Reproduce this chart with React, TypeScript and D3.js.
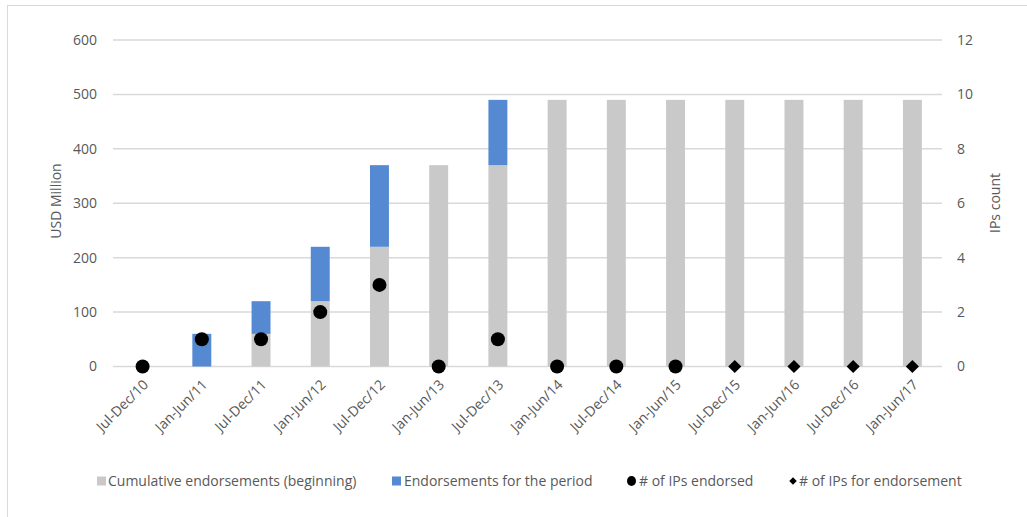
import React from 'react';
import * as d3 from 'd3';

const categories = [
  'Jul-Dec/10', 'Jan-Jun/11', 'Jul-Dec/11', 'Jan-Jun/12', 'Jul-Dec/12', 'Jan-Jun/13', 'Jul-Dec/13',
  'Jan-Jun/14', 'Jul-Dec/14', 'Jan-Jun/15', 'Jul-Dec/15', 'Jan-Jun/16', 'Jul-Dec/16', 'Jan-Jun/17',
];
const cumulative = [0, 0, 60, 120, 220, 370, 370, 490, 490, 490, 490, 490, 490, 490];
const period = [0, 60, 60, 100, 150, 0, 120, 0, 0, 0, 0, 0, 0, 0];
const ipsEndorsed: (number | null)[] = [0, 1, 1, 2, 3, 0, 1, 0, 0, 0, null, null, null, null];
const ipsForEndorsement: (number | null)[] = [null, null, null, null, null, null, null, null, null, null, 0, 0, 0, 0];
const usdTicks = [0, 100, 200, 300, 400, 500, 600];
const countTicks = [0, 2, 4, 6, 8, 10, 12];

const legendItems = [
  { label: 'Cumulative endorsements (beginning)', kind: 'gray' },
  { label: 'Endorsements for the period', kind: 'blue' },
  { label: '# of IPs endorsed', kind: 'circle' },
  { label: '# of IPs for endorsement', kind: 'diamond' },
];

const W = 1027;
const H = 517;
const FONT = '"Open Sans", sans-serif';
const TEXT = '#595959';
const GRAY = '#c9c9c9';
const BLUE = '#5589d2';
const GRID = '#d9d9d9';

export default function App() {
  const x = d3.scaleBand<string>().domain(categories).range([113, 942]).paddingInner(0.68).paddingOuter(0.34);
  const y = d3.scaleLinear().domain([0, 600]).range([366.5, 40]);
  const y2 = d3.scaleLinear().domain([0, 12]).range([366.5, 40]);
  const bw = x.bandwidth();
  const cx = (c: string) => (x(c) ?? 0) + bw / 2;

  // marker left edges and text starts
  const legendMarkX = [97, 392, 627, 789];
  const legendTextX = [108, 404, 639, 799];

  return (
    <svg width={W} height={H} style={{ position: 'absolute', left: 0, top: 0, background: '#fff' }} fontFamily={FONT}>
      <rect x={7.5} y={5.5} width={W} height={H} fill="#fff" stroke={GRID} strokeWidth={1} />
      {usdTicks.map((t) => (
        <g key={t}>
          <line x1={113} x2={942} y1={y(t)} y2={y(t)} stroke={GRID} strokeWidth={1.5} />
          <text x={97} y={y(t)} dy="0.35em" textAnchor="end" fontSize={14} fill={TEXT}>{t}</text>
        </g>
      ))}
      {countTicks.map((t) => (
        <text key={t} x={957} y={y2(t)} dy="0.35em" textAnchor="start" fontSize={14} fill={TEXT}>{t}</text>
      ))}
      <text transform={`translate(61,${201}) rotate(-90)`} textAnchor="middle" fontSize={14} fill={TEXT}>USD Million</text>
      <text transform={`translate(1000,${203}) rotate(-90)`} textAnchor="middle" fontSize={14} fill={TEXT}>IPs count</text>
      {categories.map((c, i) => (
        <g key={c}>
          {cumulative[i] > 0 && (
            <rect x={x(c)} y={y(cumulative[i])} width={bw} height={y(0) - y(cumulative[i])} fill={GRAY} />
          )}
          {period[i] > 0 && (
            <rect x={x(c)} y={y(cumulative[i] + period[i])} width={bw} height={y(cumulative[i]) - y(cumulative[i] + period[i])} fill={BLUE} />
          )}
        </g>
      ))}
      {categories.map((c, i) =>
        ipsEndorsed[i] !== null ? <circle key={'c' + c} cx={cx(c)} cy={y2(ipsEndorsed[i] as number)} r={7} fill="#000" /> : null
      )}
      {categories.map((c, i) =>
        ipsForEndorsement[i] !== null ? (
          <path key={'d' + c} d={d3.symbol(d3.symbolDiamond2, 110)() as string}
            transform={`translate(${cx(c)},${y2(ipsForEndorsement[i] as number)})`} fill="#000" />
        ) : null
      )}
      {categories.map((c) => (
        <text key={'l' + c} transform={`translate(${cx(c) + 3},${382}) rotate(-45)`} textAnchor="end" fontSize={14} fill={TEXT} dy="0.35em">{c}</text>
      ))}
      {legendItems.map((it, i) => {
        const lx = legendMarkX[i];
        const ly = 481;
        let mark;
        if (it.kind === 'gray') mark = <rect x={lx} y={ly - 4.5} width={9} height={9} fill={GRAY} />;
        else if (it.kind === 'blue') mark = <rect x={lx} y={ly - 4.5} width={9} height={9} fill={BLUE} />;
        else if (it.kind === 'circle') mark = <ellipse cx={lx + 4.5} cy={ly} rx={4.5} ry={5} fill="#000" />;
        else mark = <path d={d3.symbol(d3.symbolDiamond2, 36)() as string} transform={`translate(${lx + 4},${ly})`} fill="#000" />;
        return (
          <g key={it.label}>
            {mark}
            <text x={legendTextX[i]} y={ly} dy="0.35em" fontSize={14} fill={TEXT}>{it.label}</text>
          </g>
        );
      })}
    </svg>
  );
}
